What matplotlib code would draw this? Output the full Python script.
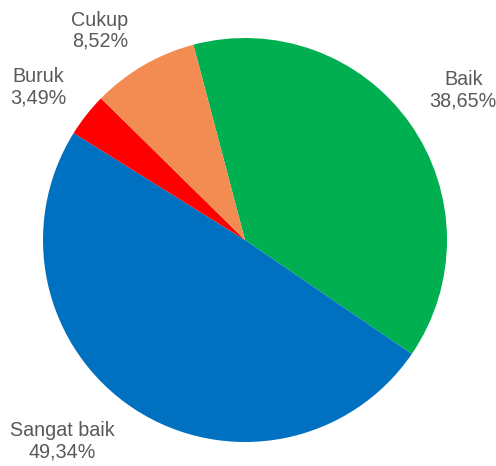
import numpy as np
import matplotlib.pyplot as plt

plt.rcParams['font.family'] = ['Liberation Sans', 'DejaVu Sans']

# kategori penilaian, urutan searah jarum jam dari atas
labels = ["Baik", "Sangat baik", "Buruk", "Cukup"]
values = [38.65, 49.34, 3.49, 8.52]
colors = ["#00B050", "#0070C0", "#FF0000", "#F28C52"]

fig = plt.figure(figsize=(4.96, 4.66), dpi=100)
ax = fig.add_axes([43 / 496, 24 / 466, 404 / 496, 404 / 466])

wedges, _ = ax.pie(values, colors=colors, startangle=104.8, counterclock=False,
                   radius=1.0, wedgeprops=dict(linewidth=0))
ax.set_xlim(-1, 1)
ax.set_ylim(-1, 1)
ax.set_aspect('equal')
ax.axis('off')

# small angular nudges so labels sit clear of the pie
nudge = {"Baik": (-0.8, 1.31), "Sangat baik": (-9.0, 1.345),
         "Buruk": (1.8, 1.27), "Cukup": (4.6, 1.26)}
for w, lab, v in zip(wedges, labels, values):
    mid = (w.theta1 + w.theta2) / 2
    da, dist = nudge[lab]
    a = np.deg2rad(mid + da)
    txt = "{}\n{}%".format(lab, "{:.2f}".format(v).replace('.', ','))
    ax.text(dist * np.cos(a), dist * np.sin(a), txt, ha='center', va='center',
            fontsize=14.2, color='#595959', linespacing=1.15)

fig.savefig("out.png", dpi=100)
